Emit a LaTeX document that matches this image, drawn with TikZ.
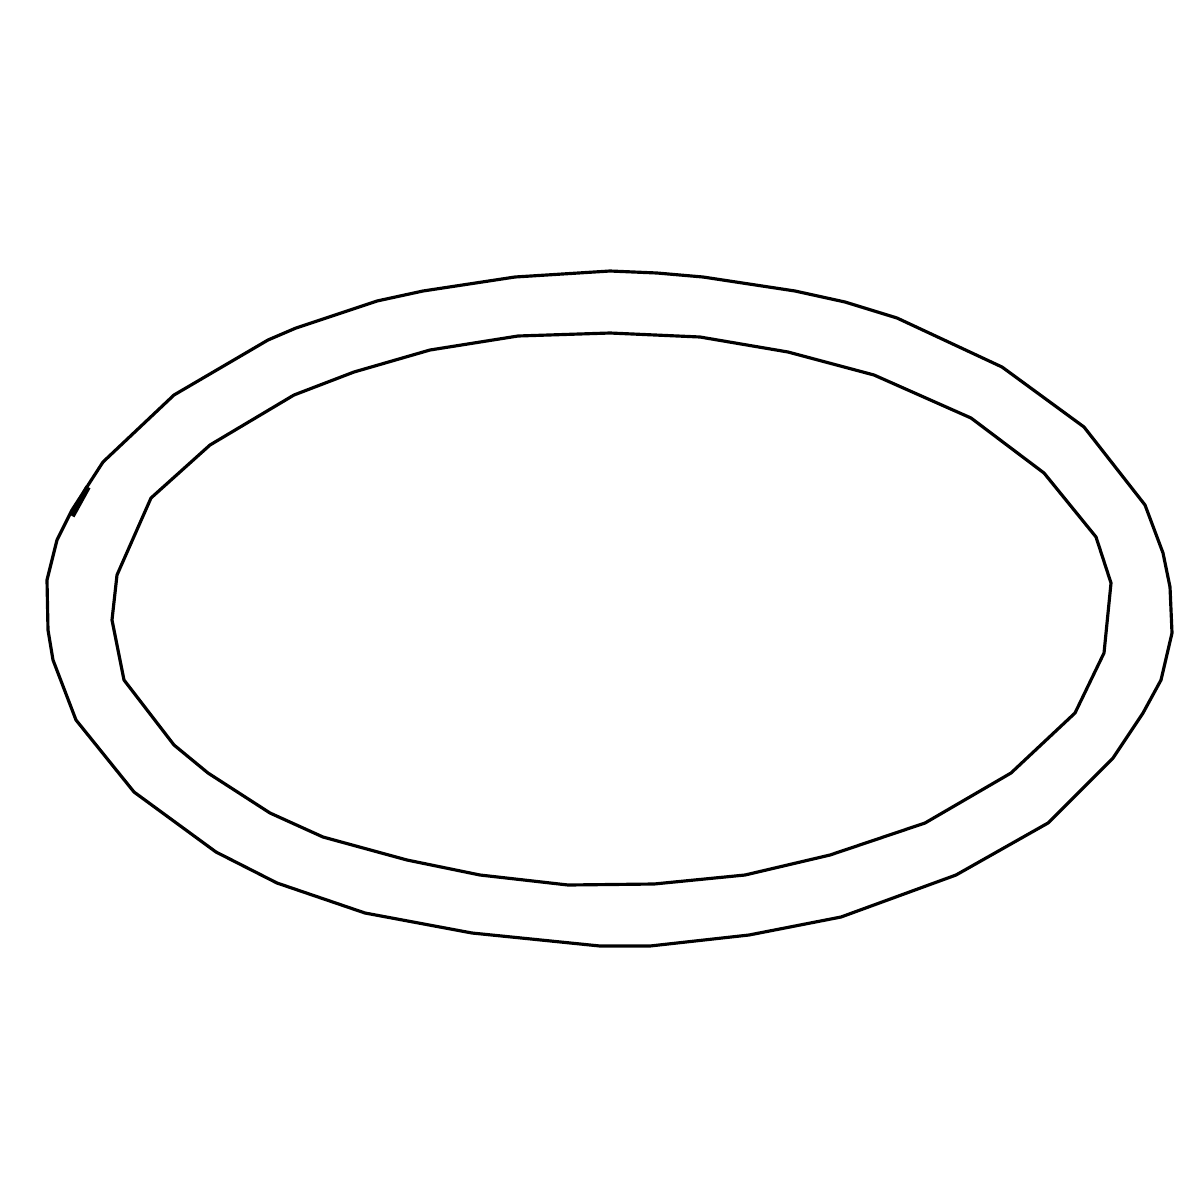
\documentclass[tikz,border=0pt]{standalone}
\usetikzlibrary{calc}
\tikzset{
  ringline/.style={black, line width=0.9pt, line join=round},
}
\begin{document}
\begin{tikzpicture}[x=0.01cm, y=-0.01cm]
	% Khung
	\useasboundingbox (0,0) rectangle (1200,1200);
	\fill[white] (0,0) rectangle (1200,1200);
	
	% Vien ngoai
	\draw[ringline] (610,271) -- (657,273) -- (703,277) -- (795,291) -- (845,302)
		-- (897,318) -- (1002,367) -- (1084,427) -- (1145,505) -- (1163,553)
		-- (1170,587) -- (1172,633) -- (1161,680) -- (1143,713) -- (1113,758)
		-- (1048,823) -- (956,875) -- (841,917) -- (749,935) -- (650,946)
		-- (600,946) -- (472,933) -- (365,913) -- (277,883) -- (216,852)
		-- (134,792) -- (76,720) -- (53,660) -- (48,630) -- (47,580)
		-- (57,540) -- (72,510) -- (103,462) -- (174,395) -- (268,340)
		-- (296,328) -- (377,301) -- (423,291) -- (515,277) -- cycle;
	
	% Vien trong
	\draw[ringline] (610,333) -- (700,337) -- (788,352) -- (874,375) -- (971,418)
		-- (1044,473) -- (1096,537) -- (1111,583) -- (1104,653) -- (1075,713)
		-- (1011,773) -- (925,823) -- (830,855) -- (745,875) -- (654,884)
		-- (568,885) -- (480,875) -- (407,860) -- (323,837) -- (270,813)
		-- (208,773) -- (174,745) -- (124,680) -- (112,620) -- (117,575)
		-- (151,498) -- (210,445) -- (294,395) -- (354,372) -- (430,350)
		-- (518,336) -- cycle;
	
	% Net dam ben trai
	\draw[black, line width=1.6pt] (72,516) -- (88,487);
\end{tikzpicture}
\end{document}
